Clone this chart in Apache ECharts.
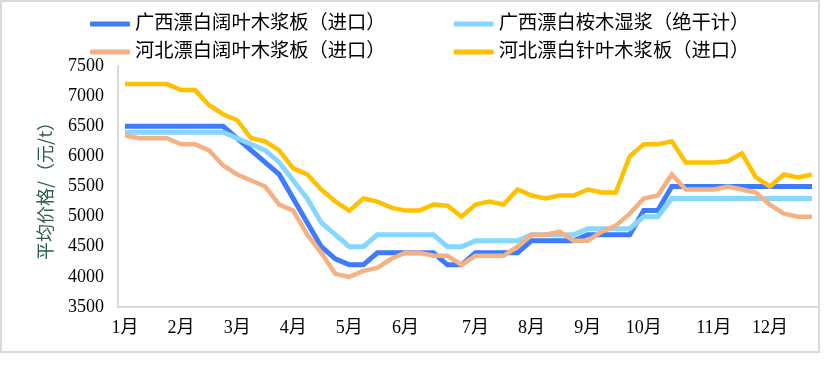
<!DOCTYPE html>
<html>
<head>
<meta charset="utf-8">
<script src="https://cdn.jsdelivr.net/npm/echarts@6/dist/echarts.min.js"></script>
<style>
html,body{margin:0;padding:0;background:#fff;}
#chart{width:824px;height:366px;}
</style>
</head>
<body>
<div id="chart"></div>
<script>
const weeks = ['1月','1月-2','1月-3','1月-4','2月','2月-2','2月-3','2月-4','3月','3月-2','3月-3','3月-4','4月','4月-2','4月-3','4月-4','5月','5月-2','5月-3','5月-4','6月','6月-2','6月-3','6月-4','6月-5','7月','7月-2','7月-3','7月-4','8月','8月-2','8月-3','8月-4','9月','9月-2','9月-3','9月-4','10月','10月-2','10月-3','10月-4','10月-5','11月','11月-2','11月-3','11月-4','12月','12月-2','12月-3','12月-4'];

const seriesNames = ['广西漂白阔叶木浆板（进口）','广西漂白桉木湿浆（绝干计）','河北漂白阔叶木浆板（进口）','河北漂白针叶木浆板（进口）'];

const gxHardwood = [6500,6500,6500,6500,6500,6500,6500,6500,6300,6100,5900,5700,5300,4900,4500,4300,4200,4200,4400,4400,4400,4400,4400,4200,4200,4400,4400,4400,4400,4600,4600,4600,4600,4700,4700,4700,4700,5100,5100,5500,5500,5500,5500,5500,5500,5500,5500,5500,5500,5500];
const gxEucalyptus = [6400,6400,6400,6400,6400,6400,6400,6400,6300,6200,6100,5900,5600,5300,4900,4700,4500,4500,4700,4700,4700,4700,4700,4500,4500,4600,4600,4600,4600,4700,4700,4700,4700,4800,4800,4800,4800,5000,5000,5300,5300,5300,5300,5300,5300,5300,5300,5300,5300,5300];
const hbHardwood = [6350,6300,6300,6300,6200,6200,6100,5850,5700,5600,5500,5200,5100,4700,4400,4050,4000,4100,4150,4300,4400,4400,4350,4350,4200,4350,4350,4350,4500,4700,4700,4750,4600,4600,4750,4850,5050,5300,5350,5700,5450,5450,5450,5500,5450,5400,5200,5050,5000,5000];
const hbSoftwood = [7200,7200,7200,7200,7100,7100,6850,6700,6600,6300,6250,6100,5800,5700,5450,5250,5100,5300,5250,5150,5100,5100,5200,5180,5000,5200,5250,5200,5450,5350,5300,5350,5350,5450,5400,5400,6000,6200,6200,6250,5900,5900,5900,5920,6050,5650,5500,5700,5650,5700];

const colors = ['#3d7bff','#86d7ff','#f4b183','#ffc000'];
const widths = [5,5,4.5,4.5];
const allData = [gxHardwood, gxEucalyptus, hbHardwood, hbSoftwood];

const chart = echarts.init(document.getElementById('chart'), null, {renderer:'canvas'});
const legendText = {fontSize:19.3, color:'#000', fontFamily:"'Liberation Serif','Noto Sans CJK SC'", lineHeight:22};
chart.setOption({
  animation:false,
  backgroundColor:'#fff',
  graphic:[{type:'rect', shape:{x:1,y:1,width:818,height:351}, style:{fill:'none', stroke:'#d9d9d9', lineWidth:2}, silent:true, z:-1}],
  legend:[
    {data:[seriesNames[0],seriesNames[1]], left:85, top:8, itemWidth:40, itemHeight:5, itemGap:68, icon:'roundRect', textStyle:legendText},
    {data:[seriesNames[2],seriesNames[3]], left:85, top:36, itemWidth:40, itemHeight:5, itemGap:68, icon:'roundRect', textStyle:legendText}
  ],
  grid:{left:118, right:5, top:66, bottom:59, containLabel:false},
  xAxis:{
    type:'category', data:weeks, boundaryGap:true,
    axisLine:{show:true, lineStyle:{color:'#d9d9d9', width:2}},
    axisTick:{show:false},
    axisLabel:{interval:0, margin:12, color:'#000', fontSize:18, fontFamily:"'Liberation Serif','Noto Sans CJK SC'",
      formatter:function(v){return v.indexOf('-')>=0?'':v;}},
    splitLine:{show:false}
  },
  yAxis:{
    type:'value', min:3500, max:7500, interval:500,
    name:'平均价格/（元/t）', nameLocation:'middle', nameRotate:90, nameGap:64,
    nameTextStyle:{fontSize:18, color:'#2f5d50', fontFamily:"'Noto Sans CJK SC'"},
    axisLine:{show:true, lineStyle:{color:'#d9d9d9', width:2}},
    axisTick:{show:false},
    axisLabel:{margin:14, color:'#000', fontSize:18, fontFamily:"'Liberation Serif','Noto Sans CJK SC'",
      formatter:function(v){return String(v);}},
    splitLine:{show:false}
  },
  series: seriesNames.map(function(n,i){
    return {name:n, type:'line', data:allData[i], showSymbol:false, symbol:'none', smooth:false,
      color:colors[i], lineStyle:{color:colors[i], width:widths[i], join:'miter'}, z:2+i};
  })
});
</script>
</body>
</html>
